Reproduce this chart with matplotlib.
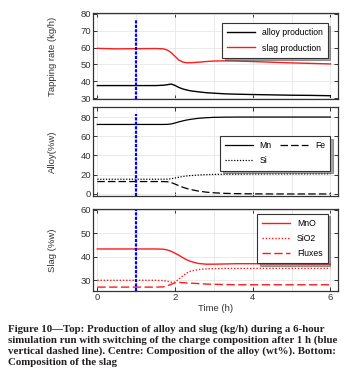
import numpy as np
import matplotlib
matplotlib.use("Agg")
import matplotlib.pyplot as plt

# Datos

tiempo = [0.0, 0.5, 1.0, 1.5, 1.7, 1.8, 1.9, 2.0, 2.1, 2.2, 2.3, 2.4, 2.6, 2.8,
          3.0, 3.3, 3.6, 4.0, 4.5, 5.0, 5.5, 6.0]

# Panel superior: producción (kg/h)
alloy_prod = [37.5, 37.5, 37.5, 37.5, 37.7, 38.0, 38.4, 37.6, 36.4, 35.5, 34.9, 34.4,
              33.8, 33.3, 33.0, 32.6, 32.4, 32.2, 32.0, 31.8, 31.7, 31.5]
slag_prod = [59.5, 59.2, 59.3, 59.4, 59.2, 58.5, 57.0, 54.8, 52.6, 51.4, 51.0, 51.0,
             51.3, 51.7, 52.0, 52.1, 52.0, 51.7, 51.3, 50.9, 50.6, 50.3]

# Panel central: composición de la aleación (%w)
mn = [72.3, 72.3, 72.3, 72.3, 72.3, 72.4, 72.8, 73.8, 75.0, 76.0, 76.9, 77.6,
      78.7, 79.3, 79.7, 79.9, 80.0, 80.0, 80.0, 80.0, 80.0, 80.0]
si = [15.3, 15.3, 15.3, 15.3, 15.3, 15.4, 15.8, 16.6, 17.4, 18.1, 18.7, 19.1,
      19.7, 20.1, 20.3, 20.5, 20.6, 20.7, 20.8, 20.8, 20.9, 20.9]
fe = [12.9, 12.9, 12.9, 12.9, 12.9, 12.7, 11.9, 10.3, 8.6, 7.0, 5.7, 4.6,
      3.0, 1.9, 1.2, 0.6, 0.3, 0.1, 0.0, 0.0, 0.0, 0.0]

# Panel inferior: composición de la escoria (%w)
mno = [43.3, 43.3, 43.3, 43.3, 43.2, 42.9, 42.3, 41.5, 40.6, 39.6, 38.7, 38.0,
       37.1, 36.8, 36.8, 36.9, 37.0, 37.0, 36.9, 36.9, 36.8, 36.8]
sio2 = [29.9, 29.9, 29.9, 29.9, 29.8, 29.5, 29.1, 29.2, 30.4, 31.8, 33.0, 33.8,
        34.5, 34.8, 34.9, 35.0, 35.0, 35.0, 35.0, 35.0, 35.0, 35.0]
fluxes = [27.0, 27.0, 27.0, 27.0, 27.1, 27.5, 28.2, 28.8, 29.0, 28.9, 28.8, 28.7,
          28.5, 28.3, 28.2, 28.1, 28.0, 28.0, 28.0, 28.0, 28.0, 28.0]

t_cambio = 1.0  # cambio de composición de la carga (h)

caption = ("Figure 10\u2014Top: Production of alloy and slug (kg/h) during a 6-hour\n"
           "simulation run with switching of the charge composition after 1 h (blue\n"
           "vertical dashed line). Centre: Composition of the alloy (wt%). Bottom:\n"
           "Composition of the slag")

plt.rcParams['font.family'] = ['Liberation Sans', 'DejaVu Sans']
plt.rcParams['font.size'] = 6


def FormatoEje(ax, ylim, yticks, ylabel):
    ax.set_xlim(-0.11, 6.2)
    ax.set_ylim(*ylim)
    ax.set_xticks([0, 2, 4, 6])
    ax.set_xticks([1, 3, 5], minor=True)
    ax.set_yticks(yticks)
    ax.grid(True, which='both', color='#e6e6e6', lw=0.6)
    ax.set_axisbelow(True)
    ax.tick_params(which='major', direction='in', top=True, right=True,
                   length=3, width=0.7, pad=1.5, labelsize=6.8, colors='#333333')
    ax.tick_params(which='minor', length=0)
    for s in ax.spines.values():
        s.set_linewidth(0.9)
        s.set_color('#333333')
    ax.set_ylabel(ylabel, fontsize=6.8, color='#333333')
    ax.yaxis.set_label_coords(-0.148, 0.5)


fig = plt.figure(figsize=(3.62, 3.82), dpi=100)
ax1 = fig.add_axes([0.257, 0.741, 0.677, 0.225])
ax2 = fig.add_axes([0.257, 0.487, 0.677, 0.233])
ax3 = fig.add_axes([0.257, 0.238, 0.677, 0.215])

leg_kw = dict(fancybox=False, shadow=True, framealpha=1, edgecolor='#333333',
              fontsize=6.2, handlelength=3.2, borderpad=0.6, labelspacing=0.7)

# Superior
ax1.plot(tiempo, alloy_prod, color='black', lw=1.0, label='alloy production')
ax1.plot(tiempo, slag_prod, color='#ff1a1a', lw=1.0, label='slag production')
ax1.axvline(t_cambio, ymax=0.92, color='#0000ff', lw=1.6, ls=(0, (1.4, 0.6)))
FormatoEje(ax1, (29.6, 80.4), [30, 40, 50, 60, 70, 80], 'Tapping rate (kg/h)')
ax1.tick_params(labelbottom=False)
l1 = ax1.legend(loc='upper right', bbox_to_anchor=(0.975, 0.93), **leg_kw)
l1.get_frame().set_linewidth(0.8)

# Central (orden por columnas: Mn, Si | Fe)
ax2.plot(tiempo, mn, color='black', lw=0.9, label='Mn')
ax2.plot(tiempo, si, color='black', lw=0.9, ls=(0, (1, 1.3)), label='Si')
ax2.plot(tiempo, fe, color='black', lw=0.9, ls=(0, (6, 2.5)), label='Fe')
ax2.axvline(t_cambio, ymax=0.92, color='#0000ff', lw=1.6, ls=(0, (1.4, 0.6)))
FormatoEje(ax2, (-2.1, 90.5), [0, 20, 40, 60, 80], 'Alloy(%w)')
ax2.tick_params(labelbottom=False)
l2 = ax2.legend(loc='upper right', ncol=2, bbox_to_anchor=(0.985, 0.72),
                columnspacing=1.0, **leg_kw)
l2.get_frame().set_linewidth(0.8)

# Inferior
ax3.plot(tiempo, mno, color='#ff1a1a', lw=1.0, label='MnO')
ax3.plot(tiempo, sio2, color='#ff1a1a', lw=1.0, ls=(0, (1, 1.3)), label='SiO2')
ax3.plot(tiempo, fluxes, color='#ff1a1a', lw=1.0, ls=(0, (6, 2.5)), label='Fluxes')
ax3.axvline(t_cambio, ymax=0.99, color='#0000ff', lw=1.6, ls=(0, (1.4, 0.6)))
FormatoEje(ax3, (25.3, 60.4), [30, 40, 50, 60], 'Slag (%w)')
ax3.set_xlabel('Time (h)', fontsize=6.8, color='#333333', labelpad=1)
l3 = ax3.legend(loc='upper right', bbox_to_anchor=(0.975, 0.995), **leg_kw)
l3.get_frame().set_linewidth(0.8)

fig.text(0.022, 0.152, caption, fontsize=7.8, fontweight='bold',
         family='Liberation Serif', va='top', ha='left', linespacing=1.22,
         color='#231f20')

fig.savefig('out.png', dpi=100)
